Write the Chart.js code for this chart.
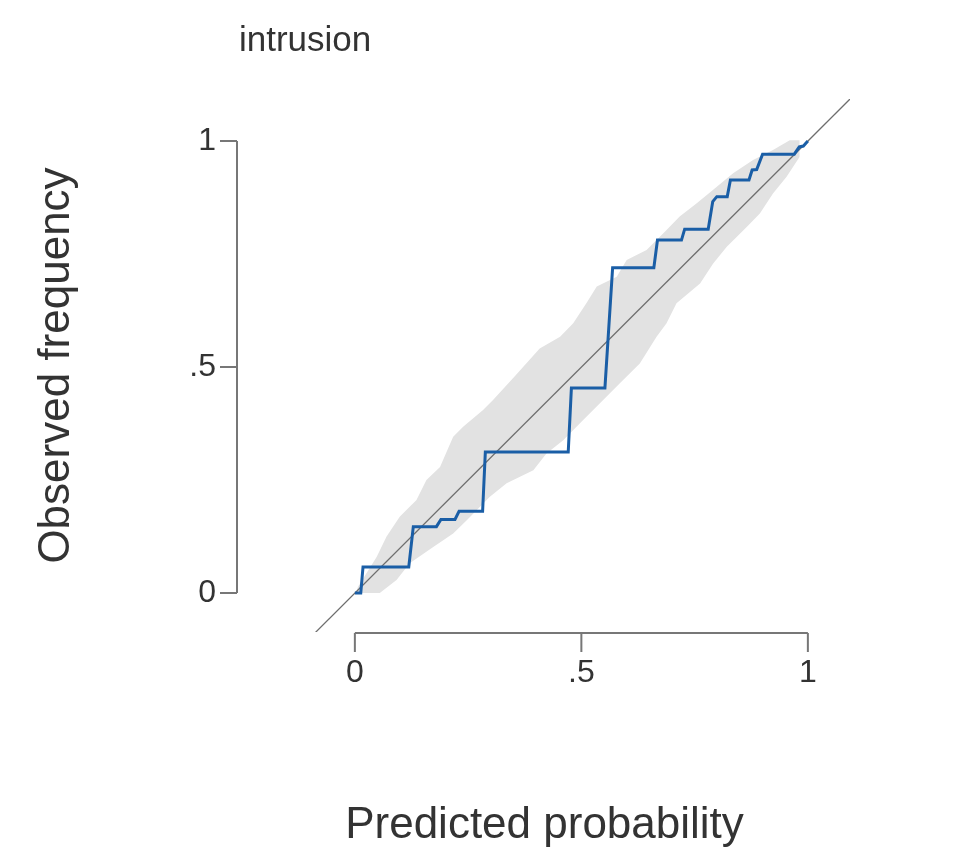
<!DOCTYPE html>
<html>
<head>
<meta charset="utf-8">
<script src="https://cdn.jsdelivr.net/npm/chart.js@4.4.1/dist/chart.umd.min.js"></script>
<style>
  html, body { margin: 0; padding: 0; background: #fff; }
  #wrap { width: 960px; height: 864px; }
</style>
</head>
<body>
<div id="wrap"><canvas id="cal"></canvas></div>
<script>
// calibration plot for "intrusion"
var panelTitle = 'intrusion';
var xTitle = 'Predicted probability';
var yTitle = 'Observed frequency';
var tickValues = [0, 0.5, 1];
var tickLabels = ['0', '.5', '1'];

// observed step curve
var stepX = [0, 0.013, 0.018, 0.119, 0.129, 0.180, 0.190, 0.221, 0.230, 0.282,
             0.288, 0.471, 0.478, 0.552, 0.569, 0.660, 0.668, 0.721, 0.728, 0.780,
             0.790, 0.799, 0.822, 0.829, 0.870, 0.877, 0.887, 0.900, 0.970, 0.981,
             0.990, 1];
var stepY = [0, 0, 0.058, 0.058, 0.147, 0.147, 0.163, 0.163, 0.181, 0.181,
             0.312, 0.312, 0.454, 0.454, 0.720, 0.720, 0.781, 0.781, 0.805, 0.805,
             0.866, 0.877, 0.877, 0.914, 0.914, 0.936, 0.937, 0.971, 0.971, 0.987,
             0.989, 1];

// grey band, upper edge
var upperX = [0.002, 0.007, 0.048, 0.070, 0.099, 0.136, 0.158, 0.188, 0.217, 0.239,
              0.283, 0.305, 0.355, 0.408, 0.453, 0.482, 0.511, 0.534, 0.578, 0.600,
              0.644, 0.688, 0.717, 0.754, 0.791, 0.835, 0.879, 0.923, 0.960, 0.982];
var upperY = [0, 0.014, 0.080, 0.125, 0.169, 0.206, 0.250, 0.279, 0.346, 0.368,
              0.405, 0.427, 0.482, 0.541, 0.567, 0.597, 0.641, 0.678, 0.700, 0.737,
              0.759, 0.803, 0.833, 0.862, 0.892, 0.929, 0.958, 0.980, 1.002, 1.002];
// grey band, lower edge
var lowerX = [0.002, 0.055, 0.092, 0.121, 0.173, 0.217, 0.247, 0.298, 0.335, 0.394,
              0.423, 0.460, 0.504, 0.541, 0.585, 0.629, 0.666, 0.688, 0.710, 0.762,
              0.791, 0.821, 0.865, 0.894, 0.923, 0.953, 0.982];
var lowerY = [0, 0, 0.029, 0.066, 0.102, 0.132, 0.161, 0.213, 0.243, 0.272,
              0.309, 0.338, 0.383, 0.420, 0.464, 0.508, 0.567, 0.597, 0.641, 0.685,
              0.729, 0.766, 0.810, 0.840, 0.884, 0.921, 0.965];

var diagX = [-0.2, 1.2];

function pairs(xs, ys) {
  return xs.map(function(v, i) { return { x: v, y: ys[i] }; });
}

var textColor = '#333333';
var axisColor = '#777777';
var family = '"Liberation Sans", Arial, Helvetica, sans-serif';

// draws the detached axis lines, the x title and the panel title
var stataAxes = {
  id: 'stataAxes',
  afterDraw: function(chart) {
    var ctx = chart.ctx;
    var xs = chart.scales.x, ys = chart.scales.y;
    var area = chart.chartArea;
    var yLineX = area.left - 78;
    var xLineY = area.bottom + 1;
    ctx.save();
    ctx.strokeStyle = axisColor;
    ctx.lineWidth = 2;
    ctx.beginPath();
    ctx.moveTo(yLineX, ys.getPixelForValue(0));
    ctx.lineTo(yLineX, ys.getPixelForValue(1));
    tickValues.forEach(function(v) {
      var p = ys.getPixelForValue(v);
      ctx.moveTo(yLineX - 17, p);
      ctx.lineTo(yLineX, p);
    });
    ctx.moveTo(xs.getPixelForValue(0), xLineY);
    ctx.lineTo(xs.getPixelForValue(1), xLineY);
    tickValues.forEach(function(v) {
      var p = xs.getPixelForValue(v);
      ctx.moveTo(p, xLineY);
      ctx.lineTo(p, xLineY + 19);
    });
    ctx.stroke();

    ctx.fillStyle = textColor;
    ctx.font = '35px ' + family;
    ctx.textAlign = 'left';
    ctx.textBaseline = 'alphabetic';
    ctx.fillText(panelTitle, yLineX + 2, 51);

    // x title is centred over the whole plot region, y axis included
    ctx.font = '44px ' + family;
    ctx.textAlign = 'center';
    ctx.fillText(xTitle, (yLineX + area.right) / 2 + 1, 838);
    ctx.restore();
  }
};

var ctx = document.getElementById('cal');
var calChart = new Chart(ctx, {
  type: 'scatter',
  data: {
    datasets: [
      {
        label: 'observed',
        data: pairs(stepX, stepY),
        showLine: true,
        borderColor: '#1a5ea6',
        borderWidth: 3,
        pointRadius: 0,
        fill: false
      },
      {
        label: 'reference',
        data: pairs(diagX, diagX),
        showLine: true,
        borderColor: '#6e6e6e',
        borderWidth: 1.3,
        pointRadius: 0,
        fill: false
      },
      {
        label: 'upper',
        data: pairs(upperX, upperY),
        showLine: true,
        borderWidth: 0,
        borderColor: 'rgba(0,0,0,0)',
        backgroundColor: '#e2e2e2',
        pointRadius: 0,
        fill: '+1'
      },
      {
        label: 'lower',
        data: pairs(lowerX, lowerY),
        showLine: true,
        borderWidth: 0,
        borderColor: 'rgba(0,0,0,0)',
        pointRadius: 0,
        fill: false
      }
    ]
  },
  options: {
    responsive: true,
    maintainAspectRatio: false,
    animation: false,
    layout: { padding: { left: 30, right: 110, top: 99, bottom: 15 } },
    plugins: {
      legend: { display: false },
      tooltip: { enabled: false },
      title: { display: false }
    },
    scales: {
      x: {
        type: 'linear',
        min: -0.088,
        max: 1.093,
        grid: { display: false, drawTicks: false },
        border: { display: false },
        afterBuildTicks: function(scale) {
          scale.ticks = tickValues.map(function(v) { return { value: v }; });
        },
        afterFit: function(scale) {
          scale.height = 217;
          scale.paddingLeft = 0;
          scale.paddingRight = 0;
        },
        ticks: {
          padding: 22,
          color: textColor,
          font: { family: family, size: 32 },
          maxRotation: 0,
          callback: function(v) { return tickLabels[tickValues.indexOf(v)]; }
        },
        title: { display: false }
      },
      y: {
        type: 'linear',
        min: -0.086,
        max: 1.093,
        grid: { display: false, drawTicks: false },
        border: { display: false },
        afterBuildTicks: function(scale) {
          scale.ticks = tickValues.map(function(v) { return { value: v }; });
        },
        afterFit: function(scale) {
          scale.width = 285;
          scale.paddingTop = 0;
          scale.paddingBottom = 0;
        },
        ticks: {
          padding: 99,
          color: textColor,
          font: { family: family, size: 32 },
          callback: function(v) { return tickLabels[tickValues.indexOf(v)]; }
        },
        title: {
          display: true,
          text: yTitle,
          color: textColor,
          padding: 0,
          font: { family: family, size: 44 }
        }
      }
    }
  },
  plugins: [stataAxes]
});
</script>
</body>
</html>
